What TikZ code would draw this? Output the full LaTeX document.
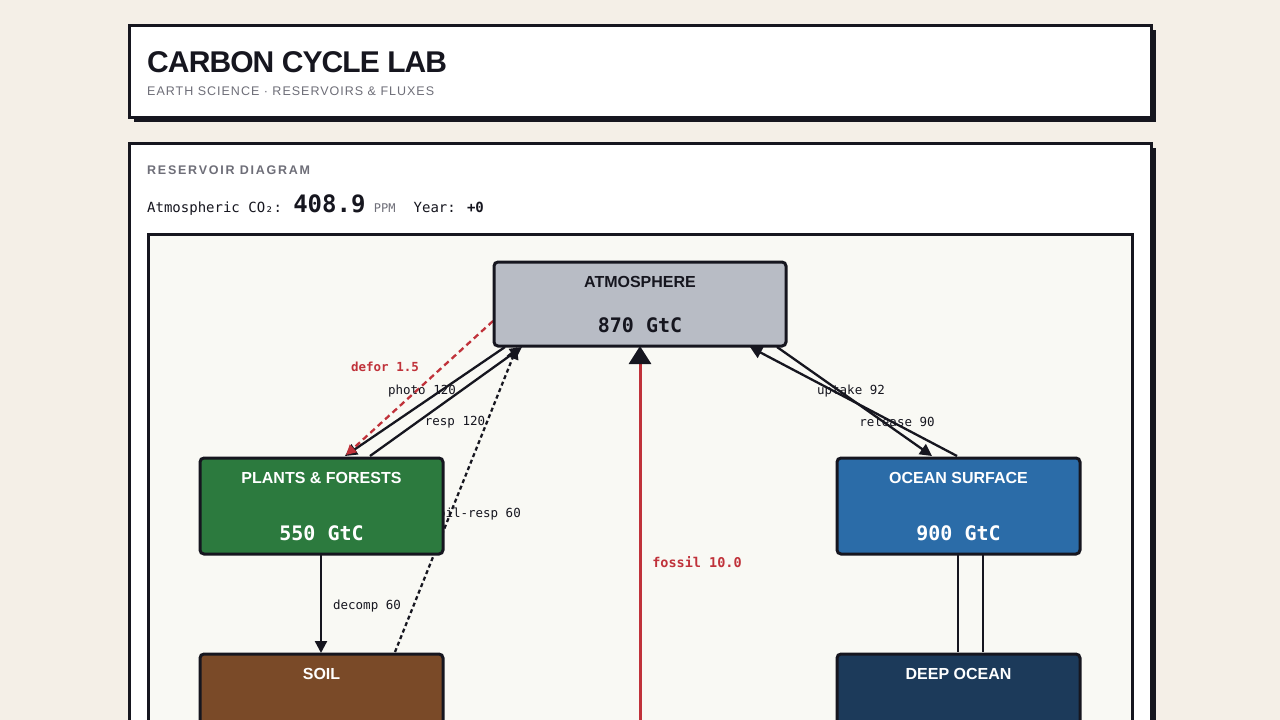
\documentclass[tikz,border=0pt]{standalone}
\usepackage{fontspec}
\setmainfont{Liberation Sans}
\newfontfamily\sfsp[LetterSpace=8]{Liberation Sans}
\newfontfamily\sfspb[LetterSpace=14]{Liberation Sans}
\newfontfamily\mono{DejaVu Sans Mono}
\usetikzlibrary{arrows.meta}
\definecolor{bg}{HTML}{F4EFE7}
\definecolor{ink}{HTML}{16161F}
\definecolor{panel}{HTML}{F9F9F4}
\definecolor{atm}{HTML}{B8BCC5}
\definecolor{plant}{HTML}{2C7A3E}
\definecolor{ocean}{HTML}{2B6CA8}
\definecolor{soil}{HTML}{7A4A28}
\definecolor{deep}{HTML}{1C3A5A}
\definecolor{gr}{HTML}{6E6E78}
\definecolor{rd}{HTML}{C0323A}
\begin{document}
\begin{tikzpicture}[x=1pt,y=-1pt,
  res/.style={draw=ink,line width=3pt,rounded corners=4pt,anchor=north west,inner sep=0pt,outer sep=0pt},
  ttl/.style={font=\bfseries\fontsize{16}{18}\selectfont,text=white},
  val/.style={font=\mono\bfseries\fontsize{20}{22}\selectfont,text=white},
  flow/.style={draw=ink,line width=2.3pt,-{Triangle[length=12pt,width=12pt]}},
  lab/.style={font=\mono\fontsize{12.5}{14}\selectfont,text=ink,inner sep=0pt},
  card/.style={draw=ink,line width=3pt,fill=white}]
\useasboundingbox (0,0) rectangle (1280,720);
\clip (0,0) rectangle (1280,720);
\fill[bg] (0,0) rectangle (1280,720);
% cards
\fill[ink] (134,30) rectangle (1156,122);
\draw[card] (129,25) rectangle (1151,117);
\node[anchor=base west,inner sep=0pt,font=\bfseries\fontsize{30}{32}\selectfont,text=ink] (title) at (147,72) {\addfontfeature{LetterSpace=-3}CARBON CYCLE LAB};
\node[anchor=base west,inner sep=0pt,font=\sfsp\fontsize{12.5}{14}\selectfont,text=gr] (sub) at (147,95) {EARTH SCIENCE · RESERVOIRS \& FLUXES};
\fill[ink] (134,148) rectangle (1156,760);
\draw[card] (129,143) rectangle (1151,760);
\node[anchor=base west,inner sep=0pt,font=\sfspb\bfseries\fontsize{12.5}{14}\selectfont,text=gr] (rd) at (147,174) {RESERVOIR DIAGRAM};
\node[anchor=base west,inner sep=0pt,font=\mono\fontsize{14}{16}\selectfont,text=ink] (co2) at (147,212) {Atmospheric CO₂: {\bfseries\fontsize{24}{26}\selectfont 408.9} {\color{gr}\fontsize{12}{14}\selectfont PPM}\hspace{18pt}Year: \textbf{+0}};
\draw[ink,line width=3pt,fill=panel] (148,234) rectangle (1132,780);
% connectors (under boxes)
\coordinate (fb) at (640,740);
\draw[rd,line width=3pt,-{Triangle[length=18pt,width=22pt,color=ink]}] (fb) -- (640,346);
\draw[flow] (505,347) -- (345,456);
\draw[flow] (370,456) -- (522,347);
\draw[rd,line width=2.3pt,dash pattern=on 6pt off 4pt,-{Triangle[length=10pt,width=10pt]}] (493,321) -- (346,455);
\draw[flow,dash pattern=on 4pt off 3pt] (395,652) -- (517,347);
\draw[flow] (321,555) -- (321,653);
\draw[flow] (777,347) -- (932,456);
\draw[flow] (957,456) -- (750,347);
\draw[ink,line width=2.3pt] (958,555) -- (958,652);
\draw[ink,line width=2.3pt] (983,555) -- (983,652);
% labels
\node[lab,text=rd,font=\mono\bfseries\fontsize{12.5}{14}\selectfont] (ldef) at (385,367) {defor 1.5};
\node[lab] (lph) at (422,391) {photo 120};
\node[lab] (lre) at (455,422) {resp 120};
\node[lab,anchor=east] (lsr) at (521,514) {soil-resp 60};
\node[lab] (ldc) at (367,606) {decomp 60};
\node[lab,text=rd,font=\mono\bfseries\fontsize{13.5}{15}\selectfont] (lfo) at (697,562) {fossil 10.0};
\node[lab] (lup) at (851,391) {uptake 92};
\node[lab] (lrl) at (897,422) {release 90};
% reservoirs
\node[res,fill=atm,minimum width=292pt,minimum height=84pt] (atmo) at (494,262) {};
\node[ttl,text=ink] (atmt) at (640,282) {ATMOSPHERE};
\node[val,text=ink] (atmv) at (640,325) {870 GtC};
\node[res,fill=plant,minimum width=243pt,minimum height=96pt] (pl) at (200,458) {};
\node[ttl] (plt) at (321.5,478) {PLANTS \& FORESTS};
\node[val] (plv) at (321.5,533) {550 GtC};
\node[res,fill=ocean,minimum width=243pt,minimum height=96pt] (oc) at (837,458) {};
\node[ttl] (oct) at (958.5,478) {OCEAN SURFACE};
\node[val] (ocv) at (958.5,533) {900 GtC};
\node[res,fill=soil,minimum width=243pt,minimum height=110pt] (so) at (200,654) {};
\node[ttl] (sot) at (321.5,674) {SOIL};
\node[res,fill=deep,minimum width=243pt,minimum height=110pt] (dp) at (837,654) {};
\node[ttl] (dpt) at (958.5,674) {DEEP OCEAN};
\end{tikzpicture}
\end{document}
